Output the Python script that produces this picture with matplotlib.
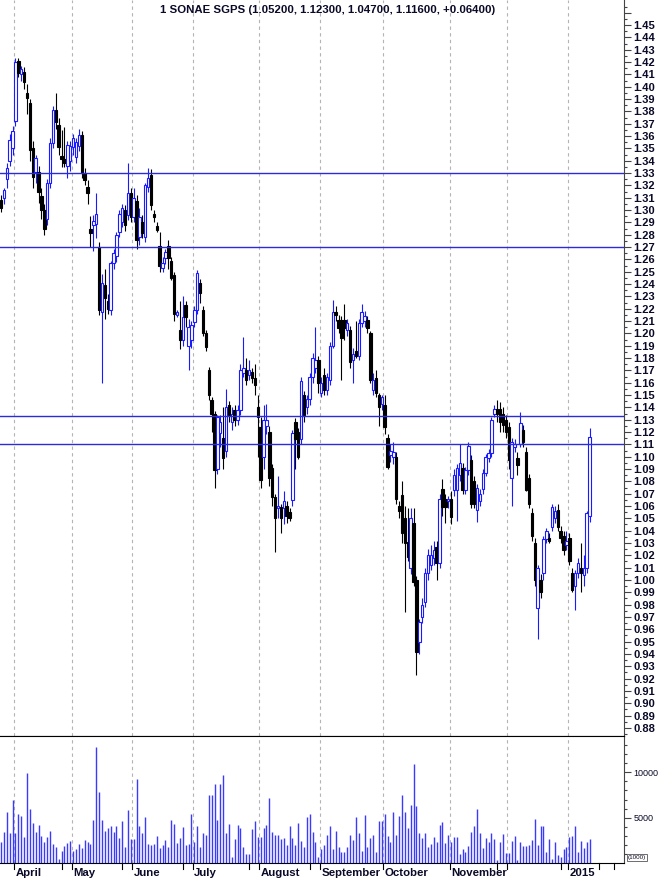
"""SONAE SGPS daily candles, late Mar 2014 .. early Jan 2015, with volume panel.

Price panel on top (right-hand scale), volume bars underneath, month
separators as dashed verticals and four horizontal support/resistance lines.
"""
import matplotlib
matplotlib.use("Agg")
import matplotlib.pyplot as plt
import numpy as np

plt.rcParams["font.family"] = ["Liberation Sans", "DejaVu Sans"]

TITLE = "1 SONAE SGPS (1.05200, 1.12300, 1.04700, 1.11600, +0.06400)"

# one entry per trading day (5 March bars, then Apr..Dec, then 8 Jan bars)
opens = [
    1.308, 1.310, 1.325, 1.340, 1.350,
    # April
    1.372, 1.421, 1.410, 1.412, 1.395, 1.387, 1.350, 1.331, 1.331, 1.311,
    1.300, 1.293, 1.322, 1.354, 1.381, 1.369, 1.344, 1.341, 1.336, 1.340,
    # May
    1.351, 1.343, 1.352, 1.361, 1.330, 1.319, 1.285, 1.288, 1.289, 1.270,
    1.217, 1.239, 1.226, 1.219, 1.257, 1.263, 1.282, 1.290, 1.300, 1.296,
    1.314,
    # June
    1.294, 1.307, 1.278, 1.290, 1.278, 1.319, 1.328, 1.297, 1.287, 1.271,
    1.253, 1.261, 1.271, 1.259, 1.247, 1.215, 1.203, 1.195, 1.223, 1.190,
    1.195,
    # July
    1.209, 1.219, 1.241, 1.219, 1.200, 1.170, 1.146, 1.135, 1.090, 1.119,
    1.115, 1.105, 1.142, 1.128, 1.138, 1.130, 1.138, 1.168, 1.170, 1.166,
    1.169, 1.164, 1.140,
    # August
    1.124, 1.100, 1.125, 1.120, 1.091, 1.067, 1.058, 1.059, 1.058, 1.060,
    1.055, 1.065, 1.128, 1.120, 1.114, 1.150, 1.140, 1.147, 1.165, 1.172,
    1.178,
    # September
    1.152, 1.166, 1.154, 1.162, 1.190, 1.217, 1.211, 1.211, 1.211, 1.203,
    1.203, 1.178, 1.186, 1.182, 1.208, 1.210, 1.211, 1.200, 1.154, 1.164,
    1.150, 1.143,
    # October
    1.142, 1.115, 1.101, 1.100, 1.100, 1.060, 1.069, 1.050, 1.031, 1.010,
    1.046, 1.000, 0.950, 0.970, 0.982, 1.006, 1.012, 1.018, 1.027, 1.014,
    1.074, 1.066, 1.064,
    # November
    1.066, 1.073, 1.073, 1.085, 1.091, 1.073, 1.089, 1.097, 1.080, 1.057,
    1.064, 1.074, 1.087, 1.099, 1.103, 1.135, 1.139, 1.139, 1.135, 1.130,
    # December
    1.124, 1.083, 1.108, 1.099, 1.110, 1.122, 1.104, 1.083, 1.054, 1.030,
    0.977, 1.000, 1.006, 1.033, 1.034, 1.043, 1.050, 1.057, 1.040, 1.036,
    1.028,
    # January 2015
    1.034, 1.006, 0.995, 1.006, 1.010, 1.004, 1.010, 1.052,
]
highs = [
    1.312, 1.318, 1.338, 1.362, 1.368,
    1.423, 1.423, 1.417, 1.416, 1.402, 1.390, 1.356, 1.345, 1.336, 1.318,
    1.305, 1.325, 1.358, 1.384, 1.395, 1.375, 1.365, 1.367, 1.356, 1.356,
    1.362, 1.358, 1.366, 1.364, 1.334, 1.324, 1.295, 1.296, 1.314, 1.274,
    1.248, 1.252, 1.232, 1.259, 1.268, 1.282, 1.300, 1.305, 1.304, 1.338,
    1.318,
    1.318, 1.312, 1.302, 1.296, 1.322, 1.334, 1.333, 1.300, 1.290, 1.282,
    1.262, 1.268, 1.276, 1.262, 1.250, 1.219, 1.226, 1.230, 1.226, 1.212,
    1.210,
    1.222, 1.251, 1.244, 1.222, 1.203, 1.173, 1.148, 1.137, 1.134, 1.134,
    1.140, 1.155, 1.145, 1.140, 1.142, 1.142, 1.175, 1.197, 1.180, 1.178,
    1.172, 1.175, 1.150,
    1.132, 1.142, 1.143, 1.125, 1.094, 1.070, 1.084, 1.062, 1.072, 1.064,
    1.058, 1.122, 1.131, 1.123, 1.165, 1.153, 1.150, 1.168, 1.184, 1.205,
    1.182,
    1.165, 1.172, 1.168, 1.193, 1.227, 1.222, 1.215, 1.214, 1.224, 1.212,
    1.206, 1.188, 1.210, 1.212, 1.224, 1.218, 1.214, 1.202, 1.168, 1.170,
    1.152, 1.150,
    1.150, 1.118, 1.110, 1.112, 1.104, 1.064, 1.080, 1.060, 1.058, 1.058,
    1.058, 1.003, 0.968, 0.985, 1.010, 1.025, 1.028, 1.032, 1.032, 1.070,
    1.082, 1.070, 1.068,
    1.072, 1.090, 1.094, 1.110, 1.095, 1.092, 1.112, 1.101, 1.084, 1.078,
    1.074, 1.090, 1.102, 1.106, 1.132, 1.142, 1.146, 1.144, 1.140, 1.134,
    1.128, 1.115, 1.114, 1.104, 1.136, 1.126, 1.108, 1.086, 1.058, 1.034,
    1.012, 1.005, 1.036, 1.042, 1.038, 1.062, 1.060, 1.062, 1.044, 1.040,
    1.040,
    1.038, 1.010, 1.008, 1.018, 1.030, 1.020, 1.056, 1.123,
]
lows = [
    1.298, 1.305, 1.318, 1.336, 1.345,
    1.368, 1.408, 1.405, 1.398, 1.378, 1.340, 1.318, 1.322, 1.306, 1.293,
    1.280, 1.288, 1.318, 1.350, 1.366, 1.345, 1.335, 1.335, 1.326, 1.332,
    1.345, 1.338, 1.348, 1.326, 1.320, 1.305, 1.270, 1.267, 1.277, 1.215,
    1.160, 1.212, 1.216, 1.215, 1.252, 1.258, 1.278, 1.286, 1.283, 1.292,
    1.290,
    1.290, 1.268, 1.272, 1.277, 1.274, 1.315, 1.300, 1.290, 1.282, 1.250,
    1.250, 1.256, 1.252, 1.243, 1.210, 1.213, 1.187, 1.190, 1.205, 1.170,
    1.188,
    1.205, 1.216, 1.225, 1.198, 1.186, 1.146, 1.120, 1.075, 1.086, 1.108,
    1.090, 1.100, 1.128, 1.122, 1.125, 1.126, 1.134, 1.165, 1.158, 1.162,
    1.160, 1.150, 1.100,
    1.075, 1.090, 1.118, 1.076, 1.060, 1.023, 1.050, 1.038, 1.045, 1.046,
    1.048, 1.060, 1.090, 1.098, 1.110, 1.128, 1.135, 1.142, 1.160, 1.168,
    1.152,
    1.148, 1.150, 1.150, 1.158, 1.188, 1.210, 1.200, 1.162, 1.195, 1.198,
    1.172, 1.160, 1.180, 1.178, 1.205, 1.205, 1.200, 1.160, 1.150, 1.148,
    1.125, 1.138,
    1.118, 1.090, 1.096, 1.094, 1.062, 1.050, 1.030, 0.974, 1.015, 1.005,
    0.995, 0.923, 0.940, 0.965, 0.978, 1.000, 1.008, 1.012, 1.000, 1.010,
    1.052, 1.046, 1.058,
    1.045, 1.068, 1.048, 1.080, 1.070, 1.070, 1.085, 1.058, 1.058, 1.047,
    1.060, 1.070, 1.084, 1.096, 1.100, 1.132, 1.128, 1.120, 1.120, 1.115,
    1.090, 1.060, 1.104, 1.085, 1.108, 1.108, 1.072, 1.058, 1.032, 0.995,
    0.952, 0.985, 1.000, 1.030, 1.030, 1.040, 1.046, 1.040, 1.030, 1.020,
    1.024,
    1.012, 0.990, 0.976, 1.002, 0.990, 0.995, 1.006, 1.047,
]
closes = [
    1.302, 1.316, 1.334, 1.357, 1.364,
    1.420, 1.411, 1.414, 1.404, 1.391, 1.349, 1.327, 1.342, 1.315, 1.300,
    1.285, 1.322, 1.354, 1.381, 1.371, 1.351, 1.341, 1.338, 1.353, 1.352,
    1.358, 1.355, 1.361, 1.330, 1.324, 1.314, 1.281, 1.291, 1.297, 1.219,
    1.241, 1.229, 1.220, 1.257, 1.265, 1.280, 1.297, 1.302, 1.288, 1.314,
    1.294,
    1.310, 1.276, 1.294, 1.281, 1.320, 1.326, 1.304, 1.294, 1.284, 1.255,
    1.257, 1.266, 1.261, 1.245, 1.216, 1.217, 1.195, 1.213, 1.213, 1.205,
    1.207,
    1.219, 1.249, 1.233, 1.200, 1.189, 1.150, 1.135, 1.089, 1.132, 1.128,
    1.099, 1.140, 1.134, 1.135, 1.130, 1.138, 1.170, 1.172, 1.162, 1.170,
    1.164, 1.158, 1.132,
    1.081, 1.130, 1.130, 1.083, 1.067, 1.050, 1.060, 1.050, 1.064, 1.052,
    1.050, 1.119, 1.114, 1.100, 1.161, 1.134, 1.147, 1.165, 1.180, 1.178,
    1.160,
    1.160, 1.154, 1.165, 1.190, 1.217, 1.215, 1.204, 1.196, 1.204, 1.208,
    1.177, 1.183, 1.182, 1.208, 1.217, 1.214, 1.204, 1.162, 1.162, 1.152,
    1.140, 1.148,
    1.124, 1.092, 1.105, 1.104, 1.066, 1.056, 1.038, 1.030, 1.019, 1.050,
    0.998, 0.942, 0.966, 0.980, 1.006, 1.020, 1.020, 1.024, 1.014, 1.066,
    1.059, 1.059, 1.066,
    1.051, 1.085, 1.091, 1.095, 1.073, 1.089, 1.109, 1.062, 1.062, 1.075,
    1.070, 1.087, 1.100, 1.103, 1.130, 1.139, 1.135, 1.128, 1.126, 1.120,
    1.097, 1.112, 1.110, 1.093, 1.127, 1.112, 1.073, 1.062, 1.036, 1.000,
    1.010, 0.990, 1.033, 1.040, 1.032, 1.059, 1.056, 1.043, 1.034, 1.024,
    1.032,
    1.015, 0.992, 1.006, 1.014, 1.006, 1.010, 1.054, 1.116,
]
volumes = [
    2350, 3470, 5600, 3360, 6940, 3280, 5450, 5220, 2900, 9920,
    5900, 4400, 3470, 4140, 2980, 2270, 2900, 3540, 2050, 1720,
    480, 1340, 1860, 2240, 2380, 1340, 1490, 2050, 1640, 2540,
    2270, 2090, 4700, 12800, 7830, 4700, 3580, 3840, 4030, 3470,
    4030, 2720, 4590, 1790, 5820, 2610, 2610, 9250, 4030, 3360,
    5040, 2050, 1980, 2090, 3020, 1600, 1980, 2540, 1720, 4770,
    4290, 2160, 2720, 3920, 1980, 2090, 5450, 2350, 4030, 1720,
    3360, 3100, 7460, 7460, 8690, 4700, 8690, 9700, 3360, 4330,
    670, 2610, 4220, 3840, 1720, 1040, 1040, 3730, 4590, 2900,
    2830, 3840, 4220, 7200, 3470, 3100, 3100, 2610, 2800, 1980,
    4030, 2720, 1980, 4400, 2420, 1790, 5070, 5450, 3470, 2350,
    670, 1490, 1980, 3100, 4030, 1490, 3580, 1720, 1230, 1230,
    1720, 3100, 2540, 5040, 3280, 1340, 5330, 1720, 2720, 3100,
    1230, 4590, 4590, 5410, 2980, 2350, 5600, 3100, 5150, 7460,
    5600, 3840, 6340, 10900, 6270, 3280, 2720, 3280, 1720, 2090,
    2900, 2350, 4220, 4480, 2160, 3100, 2350, 2830, 2830, 970,
    1490, 1230, 1860, 3470, 4030, 5900, 3360, 1600, 2800, 2350,
    3280, 2610, 370, 2350, 3210, 1120, 1120, 2420, 2980, 370,
    2350, 1860, 1860, 1980, 2540, 4890, 1980, 4030, 4030, 1230,
    2650, 480, 2270, 930, 670, 1500, 1720, 2900, 3000, 4030,
    1230, 2420, 1680, 2350, 2610,
]

# month separators sit between bars (bar index space)
month_edges = [4.5, 24.5, 45.5, 66.5, 89.5, 110.5, 132.5, 155.5, 175.5, 196.5]
month_labels = ["April", "May", "June", "July", "August", "September",
                "October", "November", "", "2015"]
extra_ticks = [21, 42, 63, 86, 107, 172, 194, 207.3, 212.5]

levels = [1.33, 1.27, 1.133, 1.11]

BLUE = "#1a1aff"
LINE_BLUE = "#2b2bd9"
GRID = "#b4b4b4"
TXT = "#0a0a28"


def draw_candles(ax, x, o, h, l, c):
    up = c > o
    edge = np.where(up, BLUE, "black")
    ax.vlines(x, l, h, colors=edge, linewidth=0.8, zorder=2)
    body = np.maximum(np.abs(c - o), 0.0012)
    ax.bar(x, body, bottom=np.minimum(o, c), width=0.85,
           color=np.where(up, "white", "black"), edgecolor=edge,
           linewidth=0.8, zorder=3)


def style_axis(ax):
    for side in ("left", "top"):
        ax.spines[side].set_visible(False)
    ax.spines["right"].set_color("#444444")
    ax.spines["bottom"].set_color("black")
    ax.yaxis.tick_right()
    ax.tick_params(axis="y", which="major", length=5, width=0.8,
                   color="#444444", labelcolor=TXT, pad=2)
    ax.tick_params(axis="y", which="minor", length=2.5, width=0.8,
                   color="#444444")
    ax.tick_params(axis="x", which="both", length=0, labelbottom=False)
    for e in month_edges:
        ax.axvline(e, color=GRID, linewidth=0.8, linestyle=(0, (3, 3)),
                   zorder=0)


def main():
    o = np.array(opens)
    h = np.array(highs)
    l = np.array(lows)
    c = np.array(closes)
    v = np.array(volumes)
    x = np.arange(len(c))

    fig = plt.figure(figsize=(6.6, 8.8), dpi=100)
    ax = fig.add_axes([0.0, 144 / 880, 624 / 660, 736 / 880])
    axv = fig.add_axes([0.0, 17 / 880, 624 / 660, 127 / 880])
    xlim = (-0.35, 215.94)

    # price panel
    style_axis(ax)
    draw_candles(ax, x, o, h, l, c)
    for lev in levels:
        ax.axhline(lev, color=LINE_BLUE, linewidth=1.0, zorder=4)
    ax.set_xlim(*xlim)
    ax.set_ylim(0.8735, 1.4703)
    major = np.round(np.arange(0.88, 1.465, 0.01), 2)
    ax.set_yticks(major)
    ax.set_yticklabels([f"{t:.2f}" if t <= 1.45 else "" for t in major],
                       fontsize=8, fontweight="bold")
    ax.set_yticks(np.round(np.arange(0.875, 1.47, 0.01), 3), minor=True)

    # volume panel
    style_axis(axv)
    axv.spines["top"].set_visible(True)
    axv.spines["top"].set_color("black")
    axv.vlines(x, 0, v, colors="#3a3aff", linewidth=1.0, zorder=2)
    axv.set_xlim(*xlim)
    axv.set_ylim(0, 14000)
    axv.set_yticks([5000, 10000])
    axv.set_yticklabels(["5000", "10000"], fontsize=6.5)
    axv.set_yticks(np.arange(1000, 14000, 1000), minor=True)
    axv.text(1.006, 0.025, "(1000)", transform=axv.transAxes, fontsize=4.5,
             color=TXT, ha="left", va="bottom", clip_on=False,
             bbox=dict(boxstyle="square,pad=0.15", facecolor="white",
                       edgecolor="#555555", linewidth=0.6))

    # month ticks + labels under the volume panel
    tr = axv.get_xaxis_transform()
    for e in list(month_edges) + extra_ticks:
        axv.plot([e, e], [0, -0.05], transform=tr, color="black",
                 linewidth=0.8, clip_on=False)
    for e, lab in zip(month_edges, month_labels):
        axv.text(e + 0.5, -0.08, lab, transform=tr, fontsize=8.2,
                 fontweight="bold", color=TXT, ha="left", va="center",
                 clip_on=False)

    fig.text(0.497, 0.989, TITLE, ha="center", va="center", fontsize=8.2,
             fontweight="bold", color=TXT)
    fig.savefig("out.png", dpi=100)
    plt.close(fig)


if __name__ == "__main__":
    main()
